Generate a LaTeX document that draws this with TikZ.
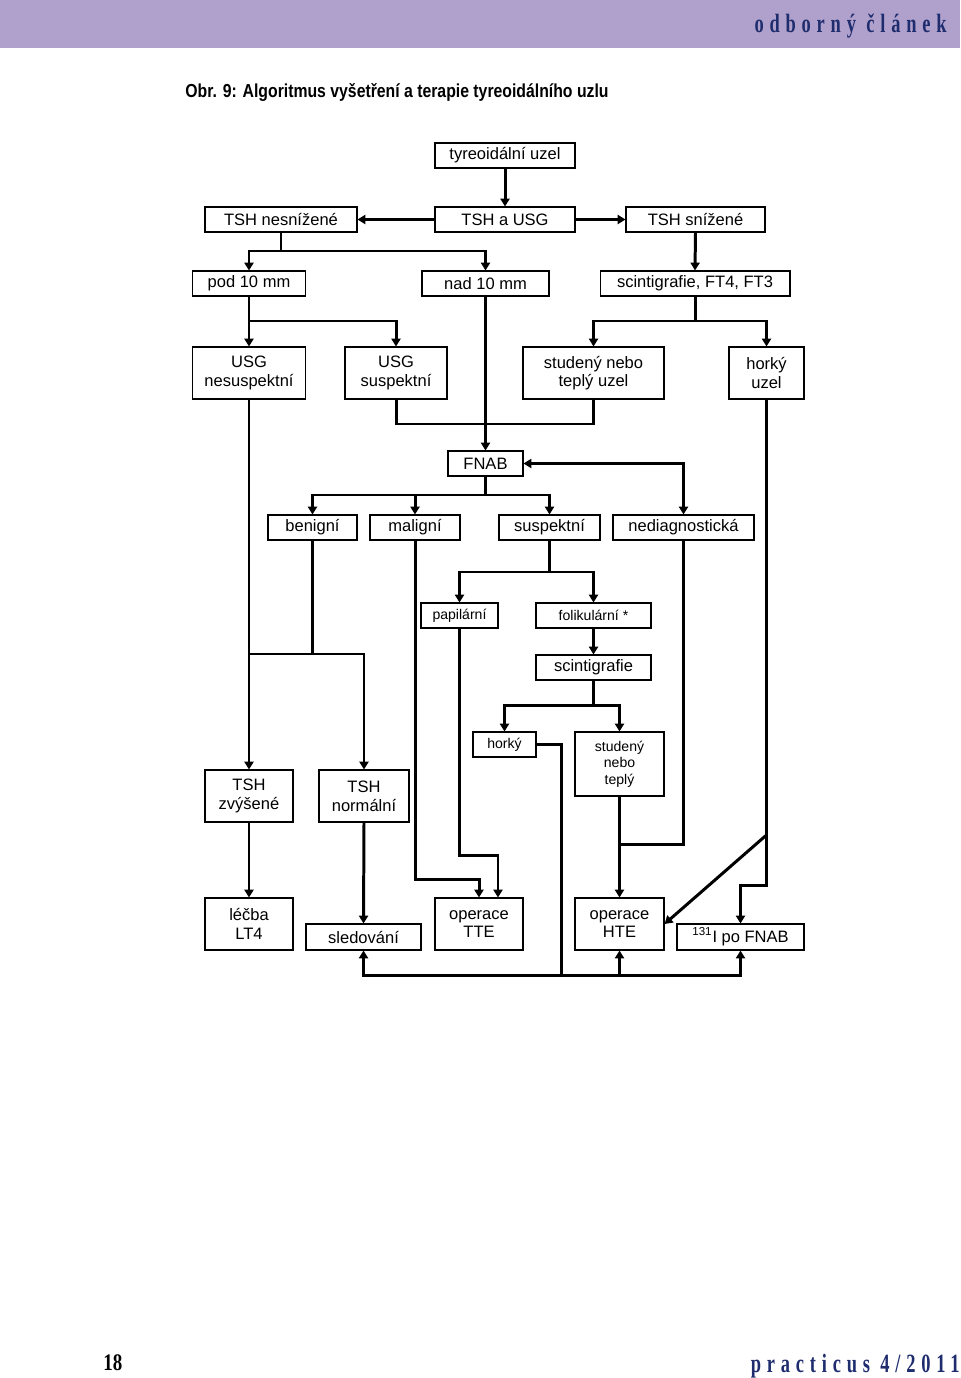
\documentclass[tikz,border=0pt]{standalone}
\usepackage{fontspec}
\setmainfont{Liberation Serif}
\setsansfont{Liberation Sans}
\usetikzlibrary{arrows.meta}
\definecolor{bar}{RGB}{176, 161, 204}
\definecolor{ink}{RGB}{31, 45, 110}
\newfontfamily\mastfont[FakeStretch=0.7, LetterSpace=22]{Liberation Serif}
\newfontfamily\numfont[FakeStretch=0.8]{Liberation Serif}
\newfontfamily\capfont[FakeStretch=0.84]{Liberation Sans}

\begin{document}
\begin{tikzpicture}[
    x=0.02cm, y=-0.02cm,
    box/.style={
        draw,
        line width=0.6pt,
        align=center,
        inner sep=1pt,
        font=\sffamily\fontsize{9.4}{10.6}\selectfont
    },
    boxsm/.style={box, font=\sffamily\fontsize{8}{9.4}\selectfont},
    conn/.style={line width=1.7pt},
    arr/.style={conn, -{Triangle[length=4.5pt, width=5.2pt]}},
    arrr/.style={conn, {Triangle[length=4.5pt, width=5.2pt]}-{Triangle[length=4.5pt, width=5.2pt]}}
]
\useasboundingbox (0,0) rectangle (960,1378);

% === Page frame ===
\fill[bar] (0,0) rectangle (960,48);
\node[anchor=base east, inner sep=0, text=ink, font=\mastfont\bfseries\fontsize{15}{17}\selectfont] (rubrika) at (947,33) {odborný článek};
\node[anchor=base west, inner sep=0, font=\capfont\bfseries\fontsize{10.7}{12}\selectfont] (titulek) at (185,98) {Obr. 9: Algoritmus vyšetření a terapie tyreoidálního uzlu};
\node[anchor=base west, inner sep=0, font=\numfont\bfseries\fontsize{13.5}{15}\selectfont] (strana) at (103,1370) {18};
\node[anchor=base east, inner sep=0, text=ink, font=\mastfont\bfseries\fontsize{15}{17}\selectfont] (casopis) at (960,1372) {practicus 4/2011};

% === Row 1-3: vstup ===
\node[box, minimum width=2.8cm, minimum height=0.5cm] (uzel) at (505,155.5) {tyreoidální uzel};
\node[box, minimum width=3.04cm, minimum height=0.5cm] (tshne) at (281,219.5) {TSH nesnížené};
\node[box, minimum width=2.8cm, minimum height=0.5cm] (tshusg) at (505,219.5) {TSH a USG};
\node[box, minimum width=2.78cm, minimum height=0.5cm] (tshsn) at (695.5,219.5) {TSH snížené};
\node[box, minimum width=2.26cm, minimum height=0.5cm] (pod) at (249,283.5) {pod 10 mm};
\node[box, minimum width=2.54cm, minimum height=0.5cm] (nad) at (485.5,283.5) {nad 10 mm};
\node[box, minimum width=3.8cm, minimum height=0.5cm] (scintft) at (695,283.5) {scintigrafie, FT4, FT3};
\node[box, minimum width=2.26cm, minimum height=1.04cm] (usgnes) at (249,373) {USG\\nesuspektní};
\node[box, minimum width=2.04cm, minimum height=1.04cm] (usgsus) at (396,373) {USG\\suspektní};
\node[box, minimum width=2.82cm, minimum height=1.04cm] (studuzel) at (593.5,373) {studený nebo\\teplý uzel};
\node[box, minimum width=1.5cm, minimum height=1.04cm] (horkuzel) at (766.5,373) {horký\\uzel};

% === FNAB ===
\node[box, minimum width=1.5cm, minimum height=0.5cm] (fnab) at (485.5,463.5) {FNAB};
\node[box, minimum width=1.78cm, minimum height=0.5cm] (benigni) at (312.5,527.5) {benigní};
\node[box, minimum width=1.8cm, minimum height=0.5cm] (maligni) at (415,527.5) {maligní};
\node[box, minimum width=2.02cm, minimum height=0.5cm] (suspekt) at (549.5,527.5) {suspektní};
\node[box, minimum width=2.82cm, minimum height=0.5cm] (nediag) at (683.5,527.5) {nediagnostická};
\node[boxsm, minimum width=1.54cm, minimum height=0.5cm] (papil) at (459.5,615.5) {papilární};
\node[boxsm, minimum width=2.3cm, minimum height=0.5cm] (folik) at (593.5,615.5) {folikulární *};
\node[box, minimum width=2.3cm, minimum height=0.5cm] (scint) at (593.5,667.5) {scintigrafie};
\node[boxsm, minimum width=1.26cm, minimum height=0.5cm] (hork) at (504.5,744.5) {horký};
\node[boxsm, minimum width=1.78cm, minimum height=1.28cm] (studen) at (619.5,764) {studený\\nebo\\teplý};

% === Vystup ===
\node[box, minimum width=1.76cm, minimum height=1.04cm] (tshzv) at (249,796) {TSH\\zvýšené};
\node[box, minimum width=1.8cm, minimum height=1.04cm] (tshnorm) at (364,796) {TSH\\normální};
\node[box, minimum width=1.76cm, minimum height=1.04cm] (lecba) at (249,924) {léčba\\LT4};
\node[box, minimum width=2.3cm, minimum height=0.52cm] (sled) at (363.5,937) {sledování};
\node[box, minimum width=1.76cm, minimum height=1.04cm] (optte) at (479,924) {operace\\TTE};
\node[box, minimum width=1.78cm, minimum height=1.04cm] (ophte) at (619.5,924) {operace\\HTE};
\node[box, minimum width=2.54cm, minimum height=0.52cm] (jod) at (740.5,937) {\textsuperscript{131}I po FNAB};

% === Junctions ===
\coordinate (j1) at (281,251);
\coordinate (j2) at (249,321);
\coordinate (j3) at (695,321);
\coordinate (j4) at (485.5,424);
\coordinate (j5) at (485.5,495);
\coordinate (j6) at (312.5,654);
\coordinate (j7) at (249,654);
\coordinate (j8) at (549.5,572);
\coordinate (j9) at (593.5,705);
\coordinate (j10) at (619.5,844);
\coordinate (j11) at (766.5,885);
\coordinate (j12) at (766.5,835);
\coordinate (j13) at (561,975);

% === Arrows ===
\draw[arr] (uzel.south) -- (tshusg.north);
\draw[arr] (tshusg.west) -- (tshne.east);
\draw[arr] (tshusg.east) -- (tshsn.west);
\draw[conn] (tshne.south) -- (j1);
\draw[arr] (j1) -| (pod.north);
\draw[arr] (j1) -| (nad.north);
\draw[arr] (tshsn.south) -- (scintft.north);
\draw[arr] (pod.south) -- (usgnes.north);
\draw[arr] (j2) -| (usgsus.north);
\draw[conn] (scintft.south) -- (j3);
\draw[arr] (j3) -| (studuzel.north);
\draw[arr] (j3) -| (horkuzel.north);
\draw[arr] (nad.south) -- (fnab.north);
\draw[conn] (usgsus.south) |- (j4);
\draw[conn] (studuzel.south) |- (j4);
\draw[conn] (fnab.south) -- (j5);
\draw[arr] (j5) -| (benigni.north);
\draw[arr] (j5) -| (maligni.north);
\draw[arr] (j5) -| (suspekt.north);
\draw[arrr] (fnab.east) -| (nediag.north);
\draw[arr] (usgnes.south) -- (tshzv.north);
\draw[conn] (benigni.south) -- (j6);
\draw[arr] (j7) -| (tshnorm.north);
\draw[arr] (maligni.south) |- ([yshift=0.36cm]optte.north) -- (optte.north);
\draw[arr] (papil.south) |- ([xshift=0.38cm, yshift=0.84cm]optte.north) -- ([xshift=0.38cm]optte.north);
\draw[conn] (suspekt.south) -- (j8);
\draw[arr] (j8) -| (papil.north);
\draw[arr] (j8) -| (folik.north);
\draw[arr] (folik.south) -- (scint.north);
\draw[conn] (scint.south) -- (j9);
\draw[arr] (j9) -| (hork.north);
\draw[arr] (j9) -| (studen.north);
\draw[arr] (studen.south) -- (ophte.north);
\draw[conn] (nediag.south) |- (j10);
\draw[arr] (horkuzel.south) -- (j11) -| (jod.north);
\draw[arr] (j12) -- (ophte.east);
\draw[arr] (tshzv.south) -- (lecba.north);
\draw[arr] (tshnorm.south) -- (sled.north);
\draw[conn] (hork.east) -| (j13);
\draw[arr] (j13) -| (sled.south);
\draw[arr] (j13) -| (ophte.south);
\draw[arr] (j13) -| (jod.south);

\end{tikzpicture}
\end{document}
